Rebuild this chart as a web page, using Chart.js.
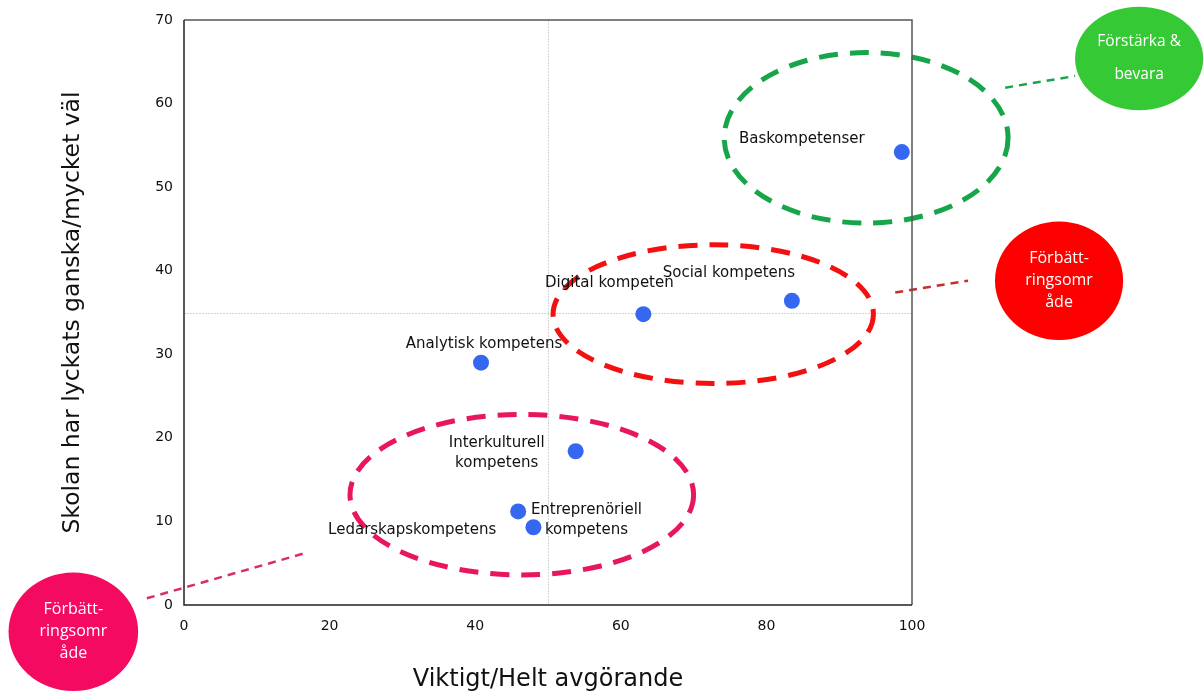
<!DOCTYPE html>
<html>
<head>
<meta charset="utf-8">
<script src="https://cdn.jsdelivr.net/npm/chart.js@4/dist/chart.umd.min.js"></script>
<style>
  html, body { margin: 0; padding: 0; background: #fff; }
  #wrap { width: 1204px; height: 696px; }
</style>
</head>
<body>
<div id="wrap"><canvas id="c" width="1204" height="696"></canvas></div>
<script>
// competences (labels), importance (x) and how well school did (y)
var labels = ['Baskompetenser', 'Social kompetens', 'Digital kompeten', 'Analytisk kompetens',
  ['Interkulturell', 'kompetens'], 'Ledarskapskompetens', ['Entreprenöriell', 'kompetens']];
var xValues = [98.6, 83.5, 63.1, 40.8, 53.8, 45.9, 48.0];
var yValues = [54.2, 36.4, 34.8, 29.0, 18.4, 11.2, 9.3];

var xTicks = [0, 20, 40, 60, 80, 100];
var yTicks = [0, 10, 20, 30, 40, 50, 60, 70];
var midX = 50, midY = 35;

// label offsets (px) from each point
var labelOffsets = [[-100, -13], [-63, -28], [-34, -31], [3, -19], [-79, 2], [-106, 19], [53, -7]];

// regions, in data units
var regions = [
  { cx: 93.7, cy: 55.9, rx: 19.5, ry: 10.2, color: '#17a54a' },
  { cx: 72.7, cy: 34.8, rx: 22.0, ry: 8.3, color: '#f21010' },
  { cx: 46.4, cy: 13.2, rx: 23.6, ry: 9.6, color: '#e8175d' }
];
var bubbles = [
  { cx: 131.2, cy: 65.4, rx: 8.8, ry: 6.2, color: '#36c936', text: ['Förstärka &', 'bevara'], size: 15.5, lh: 33 },
  { cx: 120.2, cy: 38.8, rx: 8.8, ry: 7.1, color: '#ff0000', text: ['Förbätt-', 'ringsomr', 'åde'], size: 16, lh: 22 },
  { cx: -15.2, cy: -3.2, rx: 8.9, ry: 7.1, color: '#f50a62', text: ['Förbätt-', 'ringsomr', 'åde'], size: 16, lh: 22 }
];
var connectors = [
  { x1: 112.8, y1: 61.9, x2: 122.4, y2: 63.3, color: '#17a54a' },
  { x1: 97.7, y1: 37.4, x2: 107.7, y2: 38.8, color: '#c4302b' },
  { x1: -5.1, y1: 0.8, x2: 16.6, y2: 6.2, color: '#d92d6a' }
];

var points = xValues.map(function (x, i) { return { x: x, y: yValues[i] }; });

var decor = {
  id: 'decor',
  beforeDatasetsDraw: function (chart) {
    var ctx = chart.ctx, a = chart.chartArea;
    var xs = chart.scales.x, ys = chart.scales.y;
    ctx.save();
    // quadrant lines
    ctx.strokeStyle = '#d4d4d4';
    ctx.lineWidth = 1;
    ctx.setLineDash([2, 1]);
    ctx.beginPath();
    var mx = Math.round(xs.getPixelForValue(midX)) + 0.5;
    var my = Math.round(ys.getPixelForValue(midY)) + 0.5;
    ctx.moveTo(mx, a.top); ctx.lineTo(mx, a.bottom);
    ctx.moveTo(a.left, my); ctx.lineTo(a.right, my);
    ctx.stroke();

    // dashed region ellipses
    ctx.lineWidth = 5;
    ctx.setLineDash([19, 12]);
    regions.forEach(function (r) {
      var cx = xs.getPixelForValue(r.cx), cy = ys.getPixelForValue(r.cy);
      var rx = Math.abs(xs.getPixelForValue(r.cx + r.rx) - cx);
      var ry = Math.abs(ys.getPixelForValue(r.cy + r.ry) - cy);
      ctx.strokeStyle = r.color;
      ctx.beginPath();
      ctx.ellipse(cx, cy, rx, ry, 0, 0, Math.PI * 2);
      ctx.stroke();
    });

    // connectors
    ctx.lineWidth = 2.5;
    ctx.setLineDash([8, 6]);
    connectors.forEach(function (c) {
      ctx.strokeStyle = c.color;
      ctx.beginPath();
      ctx.moveTo(xs.getPixelForValue(c.x1), ys.getPixelForValue(c.y1));
      ctx.lineTo(xs.getPixelForValue(c.x2), ys.getPixelForValue(c.y2));
      ctx.stroke();
    });
    ctx.setLineDash([]);

    // plot frame
    ctx.lineWidth = 1.5;
    ctx.strokeStyle = '#555';
    ctx.beginPath();
    ctx.moveTo(a.left, a.top); ctx.lineTo(a.right, a.top); ctx.lineTo(a.right, a.bottom);
    ctx.stroke();
    ctx.strokeStyle = '#222';
    ctx.beginPath();
    ctx.moveTo(a.left, a.top); ctx.lineTo(a.left, a.bottom); ctx.lineTo(a.right, a.bottom);
    ctx.stroke();

    // bubbles
    bubbles.forEach(function (b) {
      var cx = xs.getPixelForValue(b.cx), cy = ys.getPixelForValue(b.cy);
      var rx = Math.abs(xs.getPixelForValue(b.cx + b.rx) - cx);
      var ry = Math.abs(ys.getPixelForValue(b.cy + b.ry) - cy);
      ctx.fillStyle = b.color;
      ctx.beginPath();
      ctx.ellipse(cx, cy, rx, ry, 0, 0, Math.PI * 2);
      ctx.fill();
      ctx.fillStyle = '#fff';
      ctx.font = b.size + 'px "Open Sans"';
      ctx.textAlign = 'center';
      ctx.textBaseline = 'middle';
      var y0 = cy - (b.text.length - 1) * b.lh / 2;
      b.text.forEach(function (t, i) { ctx.fillText(t, cx, y0 + i * b.lh); });
    });
    ctx.restore();
  },
  afterDatasetsDraw: function (chart) {
    var ctx = chart.ctx;
    var meta = chart.getDatasetMeta(0);
    ctx.save();
    ctx.fillStyle = '#111';
    ctx.font = '15px "DejaVu Sans"';
    ctx.textAlign = 'center';
    ctx.textBaseline = 'middle';
    meta.data.forEach(function (el, i) {
      var lines = [].concat(labels[i]);
      var cx = el.x + labelOffsets[i][0], cy = el.y + labelOffsets[i][1];
      var y0 = cy - (lines.length - 1) * 10;
      lines.forEach(function (t, j) { ctx.fillText(t, cx, y0 + j * 20); });
    });
    ctx.restore();
  }
};

new Chart(document.getElementById('c'), {
  type: 'scatter',
  data: {
    datasets: [{
      data: points,
      pointRadius: 8,
      pointHoverRadius: 8,
      pointBackgroundColor: '#3567f0',
      pointBorderWidth: 0
    }]
  },
  options: {
    responsive: false,
    animation: false,
    layout: { padding: { left: 0, right: 292, top: 20, bottom: 0 } },
    plugins: { legend: { display: false }, tooltip: { enabled: false } },
    scales: {
      x: {
        type: 'linear', min: 0, max: 100,
        afterBuildTicks: function (s) { s.ticks = xTicks.map(function (v) { return { value: v }; }); },
        afterFit: function (s) { s.height = 91; },
        grid: { display: false, drawTicks: false },
        border: { display: false },
        ticks: { color: '#111', font: { family: 'DejaVu Sans', size: 14 }, padding: 13, maxRotation: 0 },
        title: { display: true, text: 'Viktigt/Helt avgörande', color: '#111',
          font: { family: 'DejaVu Sans', size: 24 }, padding: { top: 0, bottom: 2 } }
      },
      y: {
        type: 'linear', min: 0, max: 70,
        afterBuildTicks: function (s) { s.ticks = yTicks.map(function (v) { return { value: v }; }); },
        afterFit: function (s) { s.width = 184; },
        grid: { display: false, drawTicks: false },
        border: { display: false },
        ticks: { color: '#111', font: { family: 'DejaVu Sans', size: 14 }, padding: 11 },
        title: { display: true, text: 'Skolan har lyckats ganska/mycket väl', color: '#111',
          font: { family: 'DejaVu Sans', size: 23.5 }, padding: { top: 59, bottom: 0 } }
      }
    }
  },
  plugins: [decor]
});
</script>
</body>
</html>
